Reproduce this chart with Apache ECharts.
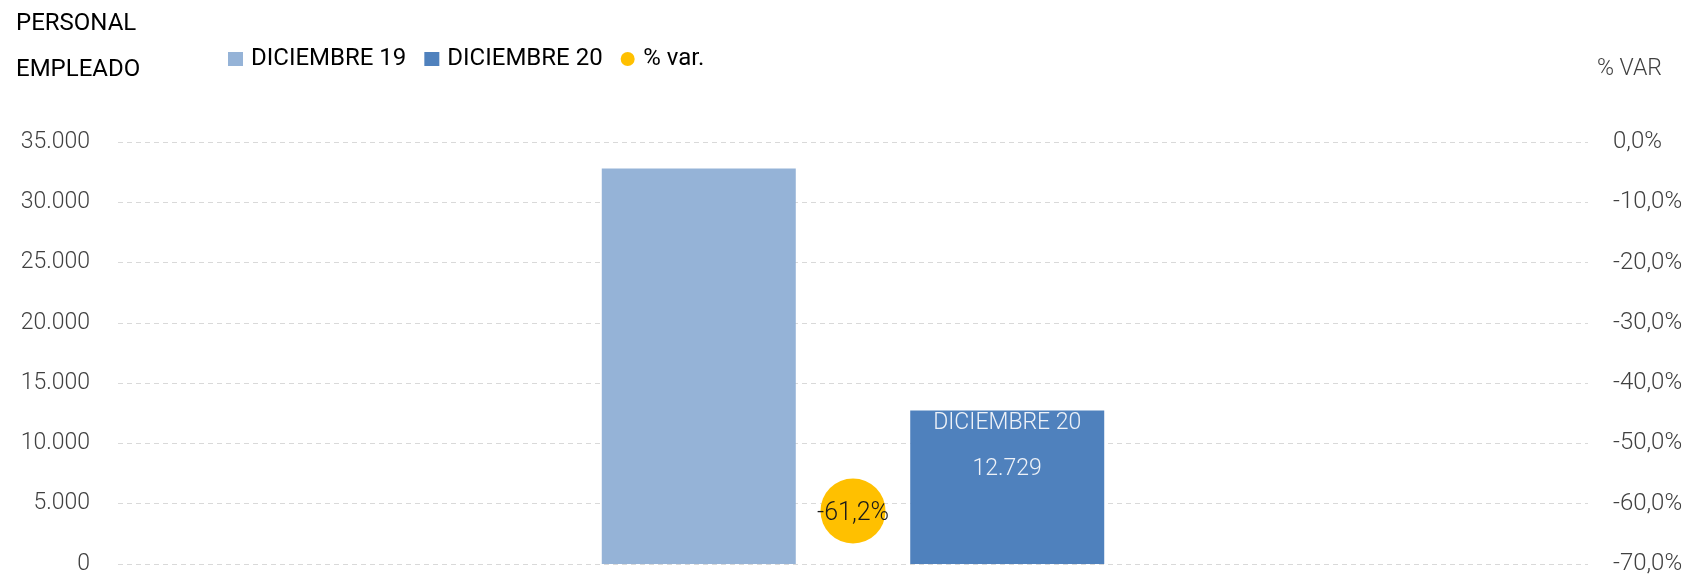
<!DOCTYPE html>
<html>
<head>
<meta charset="utf-8">
<script src="https://cdn.jsdelivr.net/npm/echarts@6/dist/echarts.min.js"></script>
<style>
html,body{margin:0;padding:0;background:#fff;}
#chart{width:1695px;height:578px;}
</style>
</head>
<body>
<div id="chart"></div>
<script>
const categories = ['Personal empleado'];
const seriesNames = ['DICIEMBRE 19', 'DICIEMBRE 20', '% var.'];
const dic19 = [32800];
const dic20 = [12729];
const pctVar = [-61.2];
const leftTicks = { min: 0, max: 35000, interval: 5000 };
const rightTicks = { min: -70, max: 0, interval: 10 };

const FONT = 'Roboto, "Open Sans", sans-serif';
function fmtThousands(v) {
  return String(Math.round(v)).replace(/\B(?=(\d{3})+(?!\d))/g, '.');
}
function fmtPct(v) {
  return v.toFixed(1).replace('.', ',') + '%';
}

const chart = echarts.init(document.getElementById('chart'), null, { renderer: 'canvas' });
chart.setOption({
  backgroundColor: '#ffffff',
  animation: false,
  title: [
    { text: 'PERSONAL\nEMPLEADO', left: 16, top: 1, padding: 0,
      textStyle: { fontFamily: FONT, fontSize: 24, fontWeight: 400, color: '#000', lineHeight: 46 } },
    { text: '% VAR', left: 1597, top: 58, padding: 0,
      textStyle: { fontFamily: FONT, fontSize: 23, fontWeight: 300, color: '#404040' } }
  ],
  legend: {
    left: 228, top: 47, padding: 0,
    itemWidth: 15, itemHeight: 14, itemGap: 18,
    data: [
      { name: seriesNames[0], icon: 'rect' },
      { name: seriesNames[1], icon: 'rect' },
      { name: seriesNames[2], icon: 'circle' }
    ],
    textStyle: { fontFamily: FONT, fontSize: 24, color: '#000', padding: [0, 0, 0, 3] }
  },
  grid: { left: 118, right: 107, top: 142, bottom: 14, containLabel: false },
  xAxis: {
    type: 'category', data: categories,
    axisLine: { show: false }, axisTick: { show: false }, axisLabel: { show: false }
  },
  yAxis: [
    {
      type: 'value', min: leftTicks.min, max: leftTicks.max, interval: leftTicks.interval,
      axisLine: { show: false }, axisTick: { show: false },
      axisLabel: { fontFamily: FONT, fontSize: 23, fontWeight: 300, color: '#404040', margin: 28,
        formatter: fmtThousands },
      splitLine: { show: true, lineStyle: { color: '#d9d9d9', width: 1, type: [5, 4] } }
    },
    {
      type: 'value', position: 'right', min: rightTicks.min, max: rightTicks.max, interval: rightTicks.interval,
      axisLine: { show: false }, axisTick: { show: false },
      axisLabel: { fontFamily: FONT, fontSize: 24, fontWeight: 300, color: '#404040', margin: 25,
        align: 'left', formatter: fmtPct },
      splitLine: { show: false }
    }
  ],
  series: [
    {
      name: seriesNames[0], type: 'bar', data: dic19, barWidth: 194, barGap: '59%',
      itemStyle: { color: '#95B3D7' }
    },
    {
      name: seriesNames[1], type: 'bar', data: dic20, barWidth: 194,
      itemStyle: { color: '#4F81BD' },
      label: {
        show: true, position: 'insideTop', distance: 0,
        formatter: function (p) { return '{a|' + p.seriesName + '}\n{b|' + fmtThousands(p.value) + '}'; },
        rich: {
          a: { fontFamily: FONT, fontSize: 23, fontWeight: 300, color: '#eef2f8', lineHeight: 26 },
          b: { fontFamily: FONT, fontSize: 23, fontWeight: 300, color: '#eef2f8', lineHeight: 66 }
        }
      }
    },
    {
      name: seriesNames[2], type: 'scatter', yAxisIndex: 1, data: pctVar,
      symbol: 'circle', symbolSize: 65,
      itemStyle: { color: '#FFC000', opacity: 1 },
      label: {
        show: true, position: 'inside', offset: [0, 3],
        fontFamily: FONT, fontSize: 25, fontWeight: 300, color: '#1a1a1a',
        formatter: function (p) { return fmtPct(p.value); }
      }
    }
  ]
});
</script>
</body>
</html>
